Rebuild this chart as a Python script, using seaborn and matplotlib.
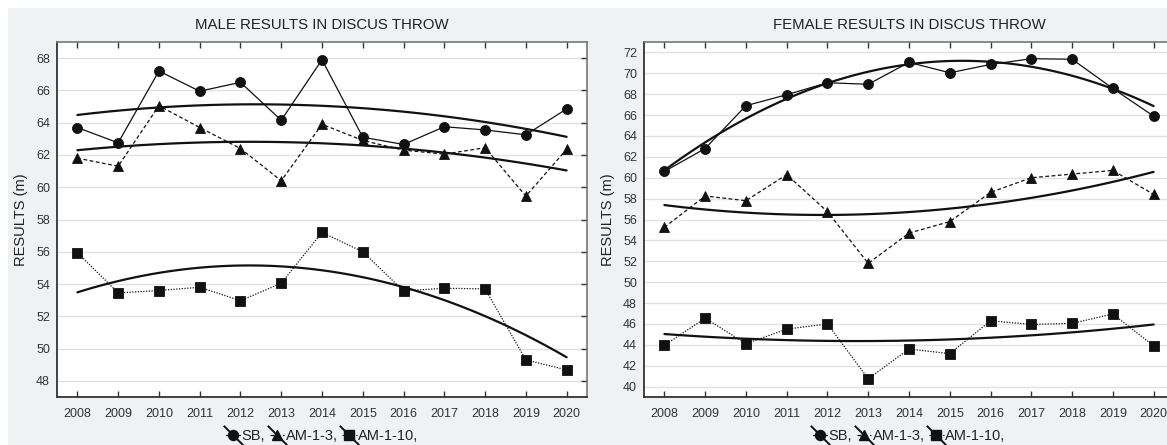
import numpy as np
import pandas as pd
import matplotlib
matplotlib.use("Agg")
import matplotlib.pyplot as plt
import seaborn as sns
from matplotlib.lines import Line2D
from matplotlib.patches import Rectangle
from matplotlib.legend_handler import HandlerTuple

# data
years = list(range(2008, 2021))
male_sb = [63.7, 62.75, 67.2, 65.95, 66.5, 64.15, 67.9, 63.1, 62.65, 63.75, 63.55, 63.25, 64.85]
male_am3 = [61.8, 61.3, 65.05, 63.7, 62.4, 60.4, 63.9, 62.9, 62.3, 62.05, 62.45, 59.45, 62.35]
male_am10 = [55.95, 53.45, 53.6, 53.8, 52.97, 54.05, 57.2, 56.0, 53.57, 53.74, 53.7, 49.3, 48.68]
female_sb = [60.6, 62.8, 66.9, 67.95, 69.1, 68.95, 71.05, 70.05, 70.85, 71.4, 71.35, 68.55, 65.9]
female_am3 = [55.25, 58.25, 57.8, 60.3, 56.75, 51.8, 54.7, 55.8, 58.6, 60.0, 60.35, 60.7, 58.4]
female_am10 = [43.95, 46.55, 44.1, 45.5, 46.0, 40.75, 43.6, 43.15, 46.3, 45.95, 46.05, 46.95, 43.9]

labels = ["SB", "AM-1-3", "AM-1-10"]
markers = ["o", "^", "s"]
msizes = [7.2, 7.8, 6.8]
styles = ["-", (0, (3, 2)), (0, (1, 1.2))]

sns.set_theme(style="white")
plt.rcParams["font.family"] = ["Liberation Sans", "DejaVu Sans"]

W, H = 1167, 445
fig = plt.figure(figsize=(W / 100, H / 100), dpi=100, facecolor="white")
fig.patches.append(Rectangle((8 / W, 0), 1 - 8 / W, 1 - 8 / H, transform=fig.transFigure,
                             facecolor="#f0f1f3", edgecolor="none", zorder=-5))

panels = [
    ("MALE RESULTS IN DISCUS THROW", [male_sb, male_am3, male_am10], 57, (47, 69), range(48, 69, 2)),
    ("FEMALE RESULTS IN DISCUS THROW", [female_sb, female_am3, female_am10], 644, (39, 73), range(40, 73, 2)),
]

for title, series, left_px, ylim, yt in panels:
    ax = fig.add_axes([left_px / W, 48 / H, 530 / W, 355 / H])
    ax.set_facecolor("white")
    for vals, mk, ms, ls in zip(series, markers, msizes, styles):
        df = pd.DataFrame({"year": years, "value": vals})
        sns.lineplot(data=df, x="year", y="value", ax=ax, color="#111111", lw=0.9,
                     linestyle=ls, marker=mk, markersize=ms, markeredgecolor="#111111",
                     markeredgewidth=0.6, zorder=3)
        sns.regplot(data=df, x="year", y="value", ax=ax, order=2, ci=None, scatter=False,
                    line_kws=dict(color="#111111", lw=1.6, zorder=4))
    ax.set_xlim(2007.5, 2020.5)
    ax.set_ylim(*ylim)
    ax.set_xticks(years)
    ax.set_yticks(list(yt))
    ax.yaxis.grid(True, color="#e2e2e2", lw=1)
    ax.set_axisbelow(True)
    ax.tick_params(axis="both", labelsize=9, colors="#333333", direction="in",
                   top=True, right=True, bottom=True, left=False, length=4, width=1)
    ax.tick_params(axis="x", pad=8)
    ax.tick_params(axis="y", pad=5)
    for lab in ax.get_xticklabels() + ax.get_yticklabels():
        lab.set_color("#333333")
    ax.spines["left"].set_color("#333333")
    ax.spines["bottom"].set_color("#333333")
    ax.spines["left"].set_linewidth(1.3)
    ax.spines["bottom"].set_linewidth(1.3)
    ax.spines["top"].set_color("#777777")
    ax.spines["right"].set_color("#777777")
    ax.spines["top"].set_linewidth(1.2)
    ax.spines["right"].set_linewidth(1.2)
    ax.set_xlabel("")
    ax.set_ylabel("RESULTS (m)", fontsize=10.5, color="#222222", labelpad=6)
    cx = (left_px + 265) / W
    fig.text(cx, 1 - 25 / H, title, ha="center", va="center", fontsize=10.8, color="#222222")

    handles = []
    for mk, ms, ls in zip(markers, msizes, styles):
        h1 = Line2D([], [], color="#111111", lw=0.9, linestyle=ls, marker=mk,
                    markersize=ms, markeredgecolor="#111111")
        h2 = Line2D([], [], color="#111111", lw=0, marker=[(-1, 1), (1, -1)],
                    markersize=14, markeredgewidth=1.4)
        handles.append((h1, h2))
    fig.legend(handles, [l + "," for l in labels], loc="center", ncol=3,
               bbox_to_anchor=(cx, 9 / H), frameon=False, fontsize=10.5,
               handler_map={tuple: HandlerTuple(ndivide=1)},
               handlelength=1.0, handletextpad=0.1, columnspacing=0.3,
               labelcolor="#222222")

fig.savefig("out.png", dpi=100, facecolor=fig.get_facecolor())
